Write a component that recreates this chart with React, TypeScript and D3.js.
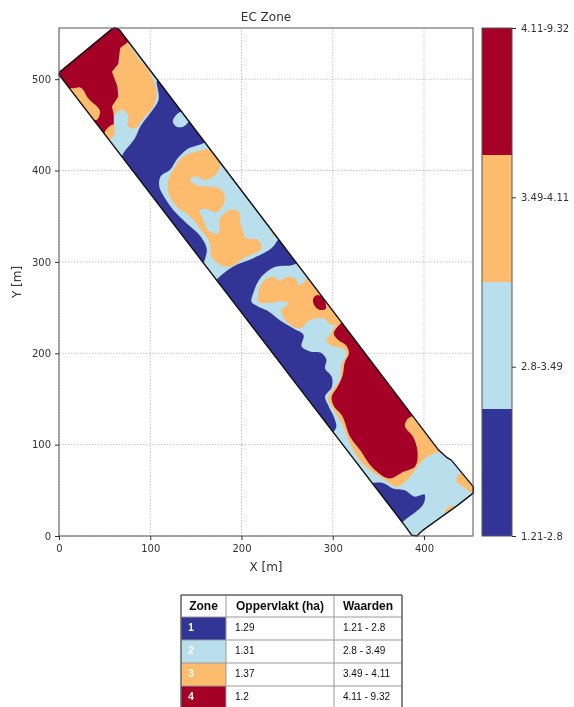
import React, { useEffect, useRef } from "react";
import * as d3 from "d3";

type P = [number, number];

const xTicks = [0, 100, 200, 300, 400];
const yTicks = [0, 100, 200, 300, 400, 500];
const xDomain: P = [0, 453.7];
const yDomain: P = [0, 556];

const zoneColors = ["#313695", "#b9dfec", "#fdbb6e", "#a50026"];
const zoneBarLabels = ["1.21-2.8", "2.8-3.49", "3.49-4.11", "4.11-9.32"];
const tableHeaders = ["Zone", "Oppervlakt (ha)", "Waarden"];
const tableZones = ["1", "2", "3", "4"];
const tableAreas = ["1.29", "1.31", "1.37", "1.2"];
const tableRanges = ["1.21 - 2.8", "2.8 - 3.49", "3.49 - 4.11", "4.11 - 9.32"];

const fieldOutline: P[] = [[1, 508], [58, 555], [61, 556], [65, 555], [67, 553], [416, 94], [425, 86], [430, 83], [454, 54], [454, 47], [436, 33], [399, 6.5], [392, 0], [386.5, 1], [377, 14], [0, 505]];

const blueUpper: P[] = [[107, 497], [160, 431], [140, 423], [129, 412], [122, 401], [111, 393], [110, 382], [116, 370], [125, 357], [140, 342], [155, 328], [162, 313], [160, 303], [70.5, 419], [83, 435], [89, 448], [100, 463], [109, 477]];
const blueMiddle: P[] = [[240, 324], [262, 299], [257, 297], [235, 294], [222, 284], [213, 266], [211, 256], [218.5, 251], [227.6, 247], [242, 236], [257, 227], [268, 220], [266, 207], [275, 202], [288, 200], [293, 193], [291.5, 183.5], [299, 174], [299, 163], [291.5, 152], [295, 143], [302.5, 127], [304, 120], [300, 112], [172, 280], [191, 295], [213, 304], [235, 317]];
const blueLower: P[] = [[344, 58], [355, 58], [366, 52], [379, 50], [390, 43], [401, 45], [401, 40], [379, 17.5], [375, 14]];

const orangeTop: P[] = [[73.5, 542], [67, 534], [65, 517], [57.7, 508], [64, 492], [65, 481], [57.7, 470], [60, 461], [69, 467], [76, 459], [76, 448], [81.5, 446], [92.4, 457], [105, 474], [107, 485], [103.4, 499], [98, 510], [87, 523], [78, 536]];
const orangeStrip: P[] = [[15.7, 490], [23, 491], [32, 479], [45, 463], [41, 455.4], [37, 456], [10, 490]];
const orangeSliver: P[] = [[50, 441], [60, 450], [61.4, 444.4], [57.7, 435.3], [55, 433]];
const orangeMiddle: P[] = [[165.5, 422.5], [151, 420.7], [136, 415], [127, 404], [120, 390], [120, 375], [129, 360.5], [143.6, 349.6], [152.7, 338.6], [165.5, 320.4], [167, 305.8], [176.5, 296.7], [187, 294.8], [202, 304], [222, 316.7], [218.5, 324], [205.7, 326], [200, 338.6], [194.7, 356.9], [187.4, 356.9], [176.5, 347.7], [174.6, 331.3], [165.5, 333], [158, 346], [154.5, 357], [162, 358], [171, 354.3], [182, 369.6], [178, 378.8], [165.5, 382.4], [151, 384], [143.6, 389.7], [147.2, 393.3], [161.9, 389.7], [176.5, 406], [172, 414]];
const orangeSpeck: P[] = [[233, 329], [234, 332], [237, 329]];
const orangeCentral: P[] = [[218.5, 266], [222, 276.5], [235, 284], [242, 279.5], [251, 284], [260.5, 280], [262, 275], [268, 277], [272, 282], [290, 260], [312, 236], [302, 231], [299, 231], [290, 238], [275, 236], [264, 227], [251, 233], [244, 247], [251, 255], [248, 256.5], [231, 255], [218.5, 256.5]];
const orangeAlongRed: P[] = [[312, 236], [302, 229], [297, 220], [293, 214.5], [297, 209], [308, 206], [313, 204], [315, 198], [310, 189], [308, 171], [297, 156], [295, 151], [301, 138], [310, 123], [319, 101], [332, 80], [341, 72], [355, 63], [370, 54], [385, 65], [396, 80], [401, 85], [418, 94], [390, 133], [350, 180]];
const orangeCorner: P[] = [[436, 65], [441, 69], [456, 54], [456, 47], [443, 54], [436, 59]];
const orangeDot: P[] = [[423, 26.6], [430, 33], [433, 33], [428.5, 26.6]];

const redTop: P[] = [[-2, 508], [61, 558], [69, 556], [76, 541], [67, 534], [65, 517], [58, 508], [64, 492], [65, 481], [58, 470], [60, 461], [60, 450], [52, 441], [48, 438]];
const redSpot: P[] = [[278.7, 260], [283, 263.8], [287.9, 262], [291.5, 248], [286, 247.4], [279.5, 252.8]];
const redLarge: P[] = [[311, 235], [301.4, 220], [306, 214.5], [315.3, 208], [317.8, 200], [313.4, 190.8], [310.9, 176], [304.3, 161.6], [298.8, 152.5], [300.6, 143.4], [309.8, 132.4], [319, 108.7], [329.9, 94], [344.5, 74], [362.7, 63], [377.4, 70.4], [390, 75.9], [392.7, 94], [388, 108.7], [379, 121.5], [381, 127], [390, 133]];

const blueHole: P[] = [[125, 452], [131, 463], [136, 464.5], [142, 454], [136, 448], [129, 448]];

// layers, painted bottom to top, with their zone index
const zoneLayers: { points: P[]; zone: number; sharp?: boolean }[] = [
  { points: blueUpper, zone: 0 },
  { points: blueMiddle, zone: 0 },
  { points: blueLower, zone: 0 },
  { points: blueHole, zone: 1 },
  { points: orangeTop, zone: 2 },
  { points: orangeMiddle, zone: 2 },
  { points: orangeSpeck, zone: 2, sharp: true },
  { points: orangeCentral, zone: 2 },
  { points: orangeAlongRed, zone: 2 },
  { points: orangeCorner, zone: 2 },
  { points: orangeDot, zone: 2 },
  { points: redTop, zone: 3, sharp: true },
  { points: orangeStrip, zone: 2 },
  { points: orangeSliver, zone: 2 },
  { points: redSpot, zone: 3 },
  { points: redLarge, zone: 3 },
];

const plot = { left: 59, right: 473, top: 28, bottom: 536 };
const bar = { left: 482, right: 512 };
const tableCols = [181, 226, 334, 402];
const tableRows = [595, 617, 640, 663, 686, 709];
const tickFont = "DejaVu Sans, sans-serif";
const axisColor = "#555";

export default function App() {
  const xAxisRef = useRef<SVGGElement>(null);
  const yAxisRef = useRef<SVGGElement>(null);
  const barAxisRef = useRef<SVGGElement>(null);

  const x = d3.scaleLinear().domain(xDomain).range([plot.left, plot.right]);
  const y = d3.scaleLinear().domain(yDomain).range([plot.bottom, plot.top]);
  const barBands = d3.scaleBand<number>().domain([3, 2, 1, 0]).range([plot.top, plot.bottom]);
  const barTicks = d3.scalePoint<string>().domain(zoneBarLabels).range([plot.bottom, plot.top]);

  const straight = d3.line<P>().x((d) => x(d[0])).y((d) => y(d[1])).curve(d3.curveLinearClosed);
  const smooth = d3.line<P>().x((d) => x(d[0])).y((d) => y(d[1])).curve(d3.curveCatmullRomClosed.alpha(1));

  useEffect(() => {
    const style = (sel: d3.Selection<SVGGElement, unknown, null, undefined>) => {
      sel.selectAll("path.domain").remove();
      sel.selectAll("line").attr("stroke", "#333");
      sel.selectAll("text").attr("fill", "#333").attr("font-size", 10).attr("font-family", tickFont);
    };
    d3.select(xAxisRef.current!).call(d3.axisBottom(x).tickValues(xTicks).tickSize(4).tickPadding(5)).call(style);
    d3.select(yAxisRef.current!).call(d3.axisLeft(y).tickValues(yTicks).tickSize(4).tickPadding(4)).call(style);
    d3.select(barAxisRef.current!).call(d3.axisRight(barTicks).tickSize(4).tickPadding(5)).call(style);
  }, []);

  return (
    <svg width={574} height={707} viewBox="0 0 574 707" style={{ position: "absolute", left: 0, top: 0, display: "block", background: "#fff" }}>
      <defs>
        <clipPath id="field"><path d={straight(fieldOutline)!} /></clipPath>
        <filter id="soft" x="-5%" y="-5%" width="110%" height="110%"><feGaussianBlur stdDeviation="0.55" /></filter>
      </defs>
      <g filter="url(#soft)">
        {xTicks.map((t) => (
          <line key={t} x1={x(t)} x2={x(t)} y1={plot.top} y2={plot.bottom} stroke="#c4c4c4" strokeWidth={1} strokeDasharray="1.5 1.5" />
        ))}
        {yTicks.map((t) => (
          <line key={t} x1={plot.left} x2={plot.right} y1={y(t)} y2={y(t)} stroke="#c4c4c4" strokeWidth={1} strokeDasharray="1.5 1.5" />
        ))}
        <path d={straight(fieldOutline)!} fill={zoneColors[1]} />
        <g clipPath="url(#field)">
          {zoneLayers.map((l, i) => (
            <path key={i} d={(l.sharp ? straight : smooth)(l.points)!} fill={zoneColors[l.zone]} />
          ))}
        </g>
        <path d={straight(fieldOutline)!} fill="none" stroke="#111" strokeWidth={1.4} />
        <rect x={plot.left} y={plot.top} width={plot.right - plot.left} height={plot.bottom - plot.top} fill="none" stroke={axisColor} strokeWidth={1} />
        <g ref={xAxisRef} transform={`translate(0,${plot.bottom})`} />
        <g ref={yAxisRef} transform={`translate(${plot.left},0)`} />

        <text x={266} y={21} textAnchor="middle" fontFamily={tickFont} fontSize={12} fill="#333">EC Zone</text>
        <text x={266} y={571} textAnchor="middle" fontFamily={tickFont} fontSize={12} fill="#333">X [m]</text>
        <text transform="translate(21,282) rotate(-90)" textAnchor="middle" fontFamily={tickFont} fontSize={12} fill="#333">Y [m]</text>

        {zoneColors.map((c, i) => (
          <rect key={c} x={bar.left} y={barBands(i)!} width={bar.right - bar.left} height={barBands.bandwidth()} fill={c} />
        ))}
        <rect x={bar.left} y={plot.top} width={bar.right - bar.left} height={plot.bottom - plot.top} fill="none" stroke={axisColor} strokeWidth={1} />
        <g ref={barAxisRef} transform={`translate(${bar.right},0)`} />

        {tableZones.map((z, i) => (
          <g key={z}>
            <rect x={tableCols[0]} y={tableRows[i + 1]} width={tableCols[1] - tableCols[0]} height={tableRows[i + 2] - tableRows[i + 1]} fill={zoneColors[i]} />
            <text x={191} y={tableRows[i + 1] + 14} textAnchor="middle" fontFamily="Liberation Sans" fontWeight="bold" fontSize={10} fill="#fff">{z}</text>
            <text x={235} y={tableRows[i + 1] + 13.5} fontFamily="Liberation Sans" fontSize={10} fill="#111">{tableAreas[i]}</text>
            <text x={343} y={tableRows[i + 1] + 13.5} fontFamily="Liberation Sans" fontSize={10} fill="#111">{tableRanges[i]}</text>
          </g>
        ))}
        {tableHeaders.map((h, i) => (
          <text key={h} x={(tableCols[i] + tableCols[i + 1]) / 2} y={610} textAnchor="middle" fontFamily="Liberation Sans" fontWeight="bold" fontSize={12} fill="#111">{h}</text>
        ))}
        {tableRows.map((r) => (
          <line key={r} x1={tableCols[0]} x2={tableCols[3]} y1={r} y2={r} stroke="#999" strokeWidth={1} />
        ))}
        {tableCols.map((c) => (
          <line key={c} x1={c} x2={c} y1={tableRows[0]} y2={tableRows[5]} stroke="#999" strokeWidth={1} />
        ))}
        <line x1={tableCols[0]} x2={tableCols[3]} y1={tableRows[0]} y2={tableRows[0]} stroke="#444" strokeWidth={1} />
        <line x1={tableCols[0]} x2={tableCols[0]} y1={tableRows[0]} y2={tableRows[5]} stroke="#444" strokeWidth={1} />
        <line x1={tableCols[3]} x2={tableCols[3]} y1={tableRows[0]} y2={tableRows[5]} stroke="#444" strokeWidth={1} />
      </g>
    </svg>
  );
}
